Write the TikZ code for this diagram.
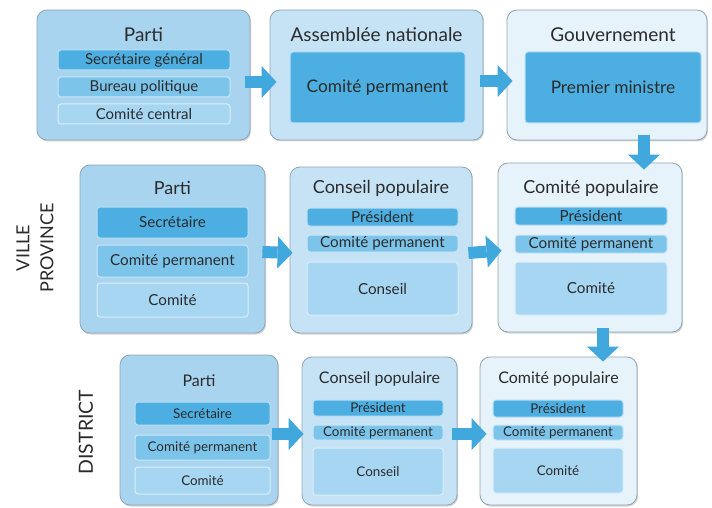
\documentclass[tikz,border=0pt]{standalone}
\usepackage{fontspec}
\setmainfont{Lato}
\usetikzlibrary{positioning, arrows.meta, shadows}
\definecolor{outerdark}{HTML}{A9D4F0}
\definecolor{outermid}{HTML}{C6E3F6}
\definecolor{outerpale}{HTML}{E6F3FB}
\definecolor{boxline}{HTML}{8FA5B5}
\definecolor{subdark}{HTML}{4DAFE1}
\definecolor{submid}{HTML}{7DC4EB}
\definecolor{sublight}{HTML}{A6D6F2}
\definecolor{arrowblue}{HTML}{41A8DE}
\definecolor{textgray}{HTML}{2B2B2B}
\tikzset{
  outerbox/.style={draw=boxline, line width=0.8pt, rounded corners=10pt, inner sep=0pt,
    drop shadow={shadow xshift=1pt, shadow yshift=-1.5pt, opacity=0.35}},
  subbox/.style={draw=white!60!#1, line width=1pt, fill=#1, rounded corners=3pt,
    inner sep=0pt, text=textgray},
  bluearrow/.style={draw=arrowblue, line width=12pt,
    -{Triangle[length=15pt, width=32pt, line width=0pt]}},
  titletext/.style={text=textgray, anchor=base, inner sep=0pt},
  sidetext/.style={text=textgray, rotate=90, align=center}
}
\tikzset{
  topfont/.style={font=\fontsize{19}{22}\selectfont},
  midfont/.style={font=\fontsize{18}{21}\selectfont},
  lowfont/.style={font=\fontsize{16}{19}\selectfont},
  topsub/.style={font=\fontsize{15}{17}\selectfont},
  bigsub/.style={font=\fontsize{17.3}{20}\selectfont},
  midsub/.style={font=\fontsize{15.2}{18}\selectfont},
  lowsub/.style={font=\fontsize{13.4}{16}\selectfont}
}

\begin{document}
\begin{tikzpicture}[x=1pt, y=-1pt]
  \useasboundingbox (0,0) rectangle (712,508);
  % national level
  \node[outerbox, fill=outerdark, minimum width=213pt, minimum height=130pt] (p1) at (143.5,75) {};
  \node[titletext, topfont] (p1t) at (143.5,42) {Parti};
  \node[subbox=subdark, minimum width=172pt, minimum height=20pt, topsub] (p1a) at (144,60) {Secrétaire général};
  \node[subbox=submid, minimum width=172pt, minimum height=20pt, topsub] (p1b) at (144,87) {Bureau politique};
  \node[subbox=sublight, minimum width=172pt, minimum height=20pt, topsub] (p1c) at (144,114) {Comité central};

  \node[outerbox, fill=outermid, minimum width=213pt, minimum height=130pt] (an) at (376.5,75) {};
  \node[titletext, topfont] (ant) at (376.5,42) {Assemblée nationale};
  \node[subbox=subdark, minimum width=175pt, minimum height=71pt, bigsub] (ana) at (377.5,87.5) {Comité permanent};

  \node[outerbox, fill=outerpale, minimum width=200pt, minimum height=130pt] (gov) at (607,75) {};
  \node[titletext, topfont] (govt) at (613,42) {Gouvernement};
  \node[subbox=subdark, minimum width=176pt, minimum height=71pt, bigsub] (gova) at (613,87.5) {Premier ministre};

  % ville / province
  \node[sidetext, font=\fontsize{18}{24}\selectfont] (vp) at (35,248) {VILLE\\PROVINCE};
  \node[outerbox, fill=outerdark, minimum width=185pt, minimum height=168pt] (p2) at (172.5,249) {};
  \node[titletext, midfont] (p2t) at (172.5,194) {Parti};
  \node[subbox=subdark, minimum width=151pt, minimum height=31pt, midsub] (p2a) at (172.5,222.5) {Secrétaire};
  \node[subbox=submid, minimum width=151pt, minimum height=32pt, midsub] (p2b) at (172.5,261) {Comité permanent};
  \node[subbox=sublight, minimum width=151pt, minimum height=34pt, midsub] (p2c) at (172.5,300) {Comité};

  \node[outerbox, fill=outermid, minimum width=182pt, minimum height=166pt] (cs2) at (381,250) {};
  \node[titletext, midfont] (cs2t) at (381,193) {Conseil populaire};
  \node[subbox=subdark, minimum width=151pt, minimum height=18pt, midsub] (cs2a) at (382.5,217) {Président};
  \node[subbox=submid, minimum width=151pt, minimum height=17pt, midsub] (cs2b) at (382.5,243.5) {Comité permanent};
  \node[subbox=sublight, minimum width=151pt, minimum height=53pt, midsub] (cs2c) at (382.5,288.5) {Conseil};

  \node[outerbox, fill=outerpale, minimum width=184pt, minimum height=169pt] (cp2) at (590,247.5) {};
  \node[titletext, midfont] (cp2t) at (591,193) {Comité populaire};
  \node[subbox=subdark, minimum width=152pt, minimum height=18pt, midsub] (cp2a) at (591,216) {Président};
  \node[subbox=submid, minimum width=152pt, minimum height=18pt, midsub] (cp2b) at (591,244) {Comité permanent};
  \node[subbox=sublight, minimum width=152pt, minimum height=53pt, midsub] (cp2c) at (591,288.5) {Comité};

  % district
  \node[sidetext, font=\fontsize{19.5}{24}\selectfont] (dt) at (86,432) {DISTRICT};
  \node[outerbox, fill=outerdark, minimum width=158pt, minimum height=150pt] (p3) at (199,430) {};
  \node[titletext, lowfont] (p3t) at (199,386) {Parti};
  \node[subbox=subdark, minimum width=135pt, minimum height=23pt, lowsub] (p3a) at (202.5,413.5) {Secrétaire};
  \node[subbox=submid, minimum width=135pt, minimum height=25pt, lowsub] (p3b) at (202.5,447.5) {Comité permanent};
  \node[subbox=sublight, minimum width=135pt, minimum height=27pt, lowsub] (p3c) at (202.5,480.5) {Comité};

  \node[outerbox, fill=outermid, minimum width=155pt, minimum height=148pt] (cs3) at (379.5,431) {};
  \node[titletext, lowfont] (cs3t) at (379.5,383) {Conseil populaire};
  \node[subbox=subdark, minimum width=130pt, minimum height=16pt, lowsub] (cs3a) at (378,408) {Président};
  \node[subbox=submid, minimum width=130pt, minimum height=15pt, lowsub] (cs3b) at (378,432.5) {Comité permanent};
  \node[subbox=sublight, minimum width=130pt, minimum height=47pt, lowsub] (cs3c) at (378,471.5) {Conseil};

  \node[outerbox, fill=outerpale, minimum width=157pt, minimum height=148pt] (cp3) at (558.5,431) {};
  \node[titletext, lowfont] (cp3t) at (558.5,383) {Comité populaire};
  \node[subbox=subdark, minimum width=130pt, minimum height=17pt, lowsub] (cp3a) at (558,408.5) {Président};
  \node[subbox=submid, minimum width=130pt, minimum height=15pt, lowsub] (cp3b) at (558,432.5) {Comité permanent};
  \node[subbox=sublight, minimum width=130pt, minimum height=45pt, lowsub] (cp3c) at (558,470.5) {Comité};

  % arrows
  \draw[bluearrow] ([xshift=-5pt,yshift=-7pt]p1.east) -- ([xshift=7pt,yshift=-7pt]an.west);
  \draw[bluearrow] ([xshift=-3pt,yshift=-6pt]an.east) -- ([xshift=6pt,yshift=-6pt]gov.west);
  \draw[bluearrow] ([xshift=37pt,yshift=5pt]gov.south) -- ([xshift=54pt,yshift=-7pt]cp2.north);
  \draw[bluearrow] ([xshift=-3pt,yshift=-3pt]p2.east) -- ([xshift=3pt,yshift=-3pt]cs2.west);
  \draw[bluearrow] ([xshift=-4pt,yshift=-3pt]cs2.east) -- ([xshift=4pt,yshift=-3pt]cp2.west);
  \draw[bluearrow] ([xshift=13pt,yshift=4pt]cp2.south) -- ([xshift=44.5pt,yshift=-5pt]cp3.north);
  \draw[bluearrow] ([xshift=-6pt,yshift=-4pt]p3.east) -- ([xshift=2pt,yshift=-3pt]cs3.west);
  \draw[bluearrow] ([xshift=-5pt,yshift=-3pt]cs3.east) -- ([xshift=7pt,yshift=-3pt]cp3.west);
\end{tikzpicture}
\end{document}
